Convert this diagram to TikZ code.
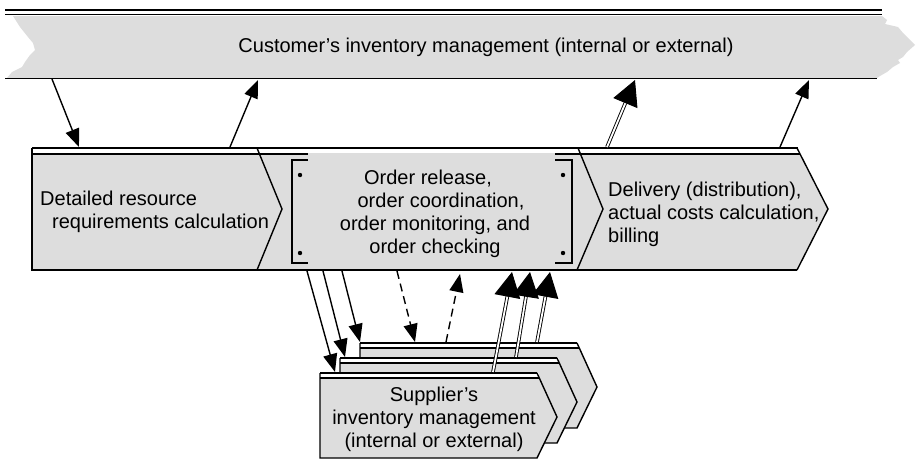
\documentclass[tikz,border=0pt]{standalone}
\usepackage{fontspec}
\setmainfont{Liberation Sans}
\usepackage{tikz}
\usetikzlibrary{arrows.meta}

\definecolor{boxgray}{RGB}{221,221,221}

\begin{document}
\begin{tikzpicture}[x=1pt, y=-1pt,
    txt/.style={font=\fontsize{20}{23}\selectfont, inner sep=0pt},
    outline/.style={line width=1.4pt},
    topline/.style={line width=2.4pt},
    arrow/.style={-{Triangle[length=18pt, width=14pt]}, line width=1.4pt},
    dasharrow/.style={arrow, dash pattern=on 8pt off 5pt},
    dblarrow/.style={-{Triangle[length=25pt, width=26pt]}, double, double distance=1.8pt, line width=0.9pt}
]
    \useasboundingbox (0,0) rectangle (917,461);

    % customer band with torn ends
    \fill[boxgray] (13,16) -- (882,16) -- (887,20) -- (885,24) -- (898,27) -- (903,33) -- (915,45)
        -- (907,52) -- (903,57) -- (898,60) -- (900,63) -- (893,67) -- (887,72) -- (880,76) -- (877,78)
        -- (7,78) -- (12,72) -- (22,67) -- (25,62) -- (30,55) -- (35,50) -- (33,43) -- (28,37) -- (20,27) -- cycle;
    \draw[topline] (5,10) -- (882,10);
    \draw[outline] (5,14.5) -- (882,14.5);
    \draw[outline] (5,78.5) -- (877,78.5);
    \node[txt] (cust) at (486,47) {Customer’s inventory management (internal or external)};

    % value chain
    \fill[boxgray] (32,154) -- (800,154) -- (828,209) -- (797,270) -- (32,270) -- cycle;
    \draw[topline] (32,148) -- (798,148);
    \draw[outline] (32,154) -- (800,154);
    \draw[outline] (32,148) -- (32,270) -- (797,270);
    \draw[outline] (257,148) -- (282,209) -- (257,270);
    \draw[outline] (578,148) -- (603,209) -- (577,270);
    \draw[outline] (797,148) -- (828,209) -- (797,270);

    % function box in the middle
    \draw[line width=1.9pt] (308,160) -- (292,160) -- (292,263) -- (308,263);
    \draw[line width=1.9pt] (555,160) -- (572,160) -- (572,263) -- (555,263);
    \fill (300,175) circle (2.2) (300,253) circle (2.2) (563,175) circle (2.2) (563,253) circle (2.2);
    \fill[boxgray] (308,152.5) rectangle (555,269);

    \node[txt, anchor=west, align=left] (calc) at (40,212) {Detailed resource\\\hspace*{12pt}requirements calculation};
    \node[txt, align=center] (order) at (435,214) {Order release,\hspace*{14pt}\\\hspace*{12pt}order coordination,\\order monitoring, and\\order checking};
    \node[txt, anchor=west, align=left] (deliv) at (608,214) {Delivery (distribution),\\actual costs calculation,\\billing};

    % supplier stack
    \foreach \dx/\dy in {40/-30, 20/-15, 0/0} {
        \begin{scope}[shift={(\dx,\dy)}]
            \fill[boxgray] (320,378) -- (539,378) -- (557,417) -- (537,458) -- (320,458) -- cycle;
            \fill[white] (320,373) rectangle (539,378);
            \draw[topline] (320,373) -- (537,373);
            \draw[outline] (320,378) -- (539,378);
            \draw[outline] (320,373) -- (320,458) -- (537,458) -- (557,417) -- (537,373);
        \end{scope}
    }
    \node[txt, align=center] (supp) at (434,419) {Supplier’s\\inventory management\\(internal or external)};

    % arrow ends
    \coordinate (a1) at (52,79);   \coordinate (b1) at (79,147);
    \coordinate (a2) at (230,147); \coordinate (b2) at (258,80);
    \coordinate (a3) at (607,147); \coordinate (b3) at (635,80);
    \coordinate (a4) at (780,147); \coordinate (b4) at (809,80);

    \draw[arrow] (a1) -- (b1);
    \draw[arrow] (a2) -- (b2);
    \draw[dblarrow] (a3) -- (b3);
    \draw[arrow] (a4) -- (b4);

    \coordinate (s1) at (307,271); \coordinate (t1) at (335,372);
    \coordinate (s2) at (323,271); \coordinate (t2) at (345,357);
    \coordinate (s3) at (342,271); \coordinate (t3) at (360,342);
    \coordinate (s4) at (397,271); \coordinate (t4) at (415,342);
    \coordinate (s5) at (446,342); \coordinate (t5) at (460,274);
    \coordinate (s6) at (493,372); \coordinate (t6) at (512,272);
    \coordinate (s7) at (516,357); \coordinate (t7) at (530,272);
    \coordinate (s8) at (537,342); \coordinate (t8) at (550,272);

    \draw[arrow] (s1) -- (t1);
    \draw[arrow] (s2) -- (t2);
    \draw[arrow] (s3) -- (t3);
    \draw[dasharrow] (s4) -- (t4);
    \draw[dasharrow] (s5) -- (t5);
    \draw[dblarrow] (s6) -- (t6);
    \draw[dblarrow] (s7) -- (t7);
    \draw[dblarrow] (s8) -- (t8);
\end{tikzpicture}
\end{document}
